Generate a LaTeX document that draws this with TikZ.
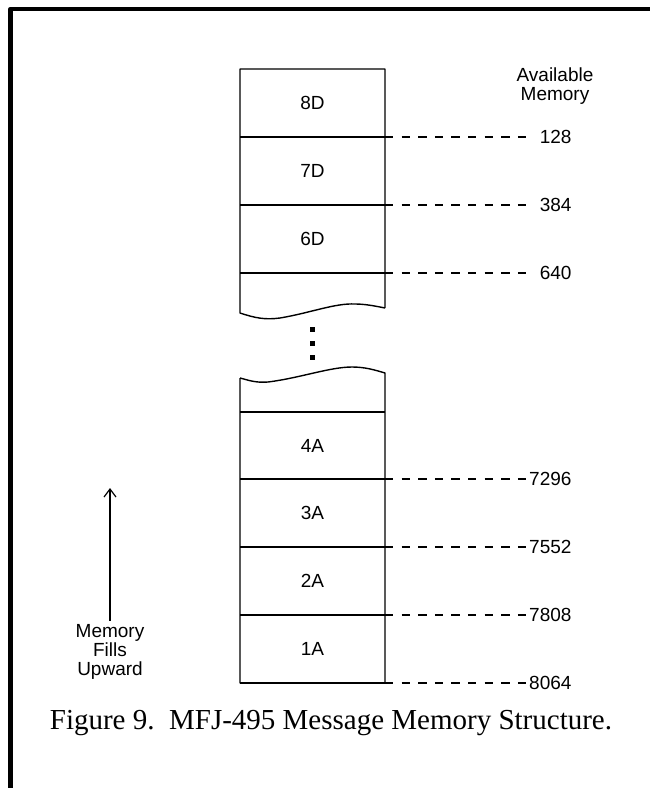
\documentclass[tikz,border=0pt]{standalone}
\usepackage{fontspec}
\setmainfont{Liberation Sans}
\newfontfamily\capfont{Liberation Serif}
\usetikzlibrary{arrows.meta}
\tikzset{
  cell/.style={line width=1.4pt},
  leader/.style={line width=1.3pt,dash pattern=on 8.3pt off 8.3pt},
}
\begin{document}
\begin{tikzpicture}[x=1pt,y=-1pt,line join=round,font=\fontsize{19}{19}\selectfont]
\useasboundingbox (0,0) rectangle (650,788);
\path
(240,69)coordinate(TL)
(385,69)coordinate(TR)
(240,313)coordinate(ML)
(385,308)coordinate(MR)
(240,378)coordinate(NL)
(385,373)coordinate(NR)
(240,683)coordinate(BL)
(385,683)coordinate(BR)
(110,488)coordinate(up)
;
% frame
\draw[line width=4.5pt] (10.5,788)--(10.5,9)--(650,9);
% upper part of the stack
\draw[cell] (MR)--(TR)--(TL)--(ML)
  .. controls (255,318) and (265,320) .. (280,318)
  .. controls (310,313) and (335,303) .. (355,304)
  .. controls (365,304) and (375,306) .. (MR);
% lower part of the stack
\draw[cell] (NL)--(BL)--(BR)--(NR)
  .. controls (375,370) and (365,367) .. (352,367)
  .. controls (330,367) and (300,378) .. (268,382)
  .. controls (255,383) and (248,380) .. (NL);
\draw[cell] (240,412)--(385,412);
\foreach \y in {329,343,357}\fill (309.5,\y-2.5) rectangle (314.5,\y+2.5);
% boundaries and free memory
\foreach \y/\v in {137/128,205/384,273/640,479/7296,547/7552,615/7808,683/8064}{
  \path (240,\y)coordinate(a\v) (385,\y)coordinate(s\v) (532,\y)coordinate(e\v);
  \draw[cell] (a\v)--(s\v);
  \draw[leader] (s\v)--(e\v);
  \node[anchor=east](m\v) at (575,\y){\v};
}
\foreach \y/\t in {103/8D,171/7D,239/6D,445.5/4A,513/3A,581/2A,649/1A}\node(\t) at (312.5,\y){\t};
\node[align=center](avail) at (555,86){Available\\Memory};
\node[align=center](fill) at (110,652){Memory\\Fills\\Upward};
\draw[line width=1.2pt,-{Straight Barb[length=8pt,width=12pt]}] (fill.north)--(up);
\node[font=\capfont\fontsize{29}{29}\selectfont](cap) at (331,723){Figure 9.\ \ MFJ-495 Message Memory Structure.};
\end{tikzpicture}
\end{document}
